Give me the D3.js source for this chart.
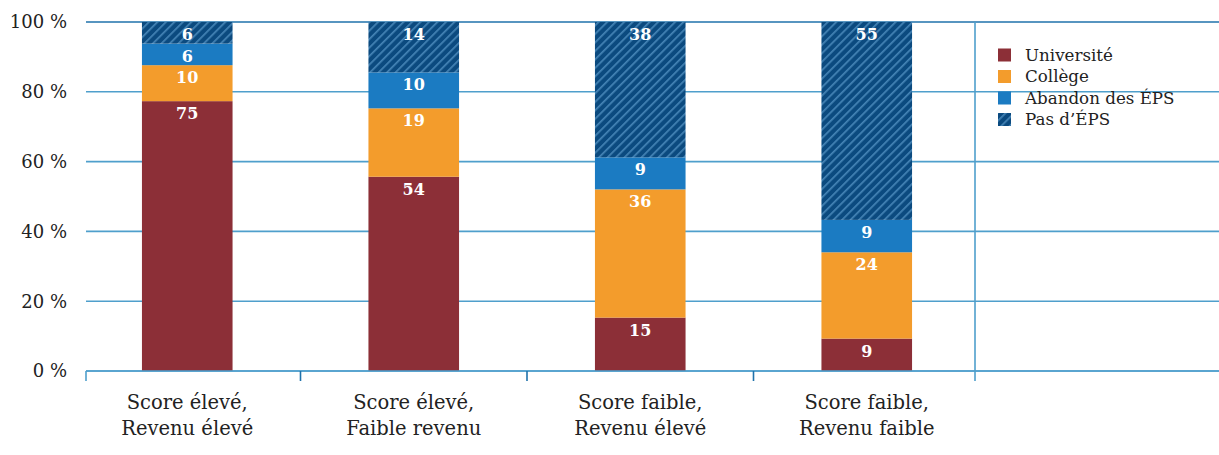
<!DOCTYPE html>
<html>
<head>
<meta charset="utf-8">
<script src="https://cdn.jsdelivr.net/npm/d3@7"></script>
<style>
  html, body { margin: 0; padding: 0; background: #fff; }
  svg { display: block; }
  text { font-family: "DejaVu Serif", "Liberation Serif", serif; }
</style>
</head>
<body>
<svg id="chart" width="1219" height="455"></svg>
<script>
// ---- Data ----
const categories = [
  ["Score élevé,", "Revenu élevé"],
  ["Score élevé,", "Faible revenu"],
  ["Score faible,", "Revenu élevé"],
  ["Score faible,", "Revenu faible"]
];
const seriesNames = ["Université", "Collège", "Abandon des ÉPS", "Pas d’ÉPS"];
const universite = [75, 54, 15, 9];
const college = [10, 19, 36, 24];
const abandon = [6, 10, 9, 9];
const pasEPS = [6, 14, 38, 55];
const yTicks = [0, 0.2, 0.4, 0.6, 0.8, 1.0];

// ---- Styles ----
const colors = ["#8c2f37", "#f39c2c", "#1b7bc2", "url(#hatch)"];
const gridColor = "#4f9fcc";

const plotLeft = 86, plotRight = 1219, sepX = 975;
const svg = d3.select("#chart");

const defs = svg.append("defs");
const pat = defs.append("pattern")
  .attr("id", "hatch")
  .attr("patternUnits", "userSpaceOnUse")
  .attr("width", 6).attr("height", 6)
  .attr("patternTransform", "rotate(45)");
pat.append("rect").attr("width", 6).attr("height", 6).attr("fill", "#0b4a7f");
pat.append("rect").attr("x", 0).attr("width", 1.7).attr("height", 6).attr("fill", "#4584b6");

const keys = seriesNames;
const rows = categories.map((c, i) => ({
  cat: c.join(" "),
  [keys[0]]: universite[i],
  [keys[1]]: college[i],
  [keys[2]]: abandon[i],
  [keys[3]]: pasEPS[i]
}));

const x = d3.scaleBand()
  .domain(rows.map(d => d.cat))
  .range([74, 980])
  .paddingInner(0.6)
  .paddingOuter(0.3);

const y = d3.scaleLinear().domain([0, 1]).range([371, 22]);

// gridlines
svg.append("g").selectAll("line").data(yTicks).join("line")
  .attr("x1", plotLeft).attr("x2", plotRight)
  .attr("y1", d => y(d)).attr("y2", d => y(d))
  .attr("stroke", d => d === 1 ? "#1f72ab" : gridColor)
  .attr("stroke-width", 1.6);

// y tick labels
svg.append("g").selectAll("text").data(yTicks).join("text")
  .attr("x", 67).attr("y", d => y(d))
  .attr("dy", "0.35em")
  .attr("text-anchor", "end")
  .attr("font-size", 18)
  .attr("fill", "#222")
  .text(d => Math.round(d * 100) + " %");

// stacked bars (normalized)
const stack = d3.stack().keys(keys).offset(d3.stackOffsetExpand);
const stacked = stack(rows);

const layer = svg.append("g").selectAll("g").data(stacked).join("g")
  .attr("fill", (d, i) => colors[i]);

layer.selectAll("rect").data(d => d).join("rect")
  .attr("x", d => x(d.data.cat))
  .attr("width", x.bandwidth())
  .attr("y", d => y(d[1]))
  .attr("height", d => y(d[0]) - y(d[1]));

// value labels
stacked.forEach((s) => {
  svg.append("g").selectAll("text").data(s).join("text")
    .attr("x", d => x(d.data.cat) + x.bandwidth() / 2)
    .attr("y", d => y(d[1]) + 18)
    .attr("text-anchor", "middle")
    .attr("font-size", 16)
    .attr("font-weight", "bold")
    .attr("fill", "#fff")
    .text(d => d.data[s.key]);
});

// x axis line
svg.append("line")
  .attr("x1", plotLeft).attr("x2", plotRight)
  .attr("y1", y(0)).attr("y2", y(0))
  .attr("stroke", gridColor).attr("stroke-width", 1.6);

// ticks at band boundaries
const tickXs = [plotLeft];
rows.slice(0, -1).forEach(d => tickXs.push(x(d.cat) + x.bandwidth() / 2 + x.step() / 2));
svg.append("g").selectAll("line").data(tickXs).join("line")
  .attr("x1", d => d).attr("x2", d => d)
  .attr("y1", y(0)).attr("y2", y(0) + 10)
  .attr("stroke", d => d === plotLeft ? gridColor : "#1f72ab")
  .attr("stroke-width", 1.6);

// separator line
svg.append("line")
  .attr("x1", sepX).attr("x2", sepX)
  .attr("y1", y(1)).attr("y2", y(0) + 10)
  .attr("stroke", gridColor).attr("stroke-width", 1.6);

// x labels
const xl = svg.append("g").selectAll("text").data(rows).join("text")
  .attr("x", d => x(d.cat) + x.bandwidth() / 2)
  .attr("y", 409)
  .attr("text-anchor", "middle")
  .attr("font-size", 19.5)
  .attr("fill", "#222");
xl.each(function(d, i) {
  const t = d3.select(this);
  categories[i].forEach((line, li) => {
    t.append("tspan").attr("x", x(d.cat) + x.bandwidth() / 2)
      .attr("dy", li === 0 ? 0 : 26).text(line);
  });
});

// legend
const leg = svg.append("g").selectAll("g").data(keys).join("g")
  .attr("transform", (d, i) => `translate(998, ${55 + i * 21.5})`);
leg.append("rect")
  .attr("x", 0).attr("y", -6.5).attr("width", 13).attr("height", 13)
  .attr("fill", (d, i) => colors[i]);
leg.append("text")
  .attr("x", 27).attr("y", 0).attr("dy", "0.35em")
  .attr("font-size", 16.7)
  .attr("fill", "#222")
  .text(d => d);
</script>
</body>
</html>
